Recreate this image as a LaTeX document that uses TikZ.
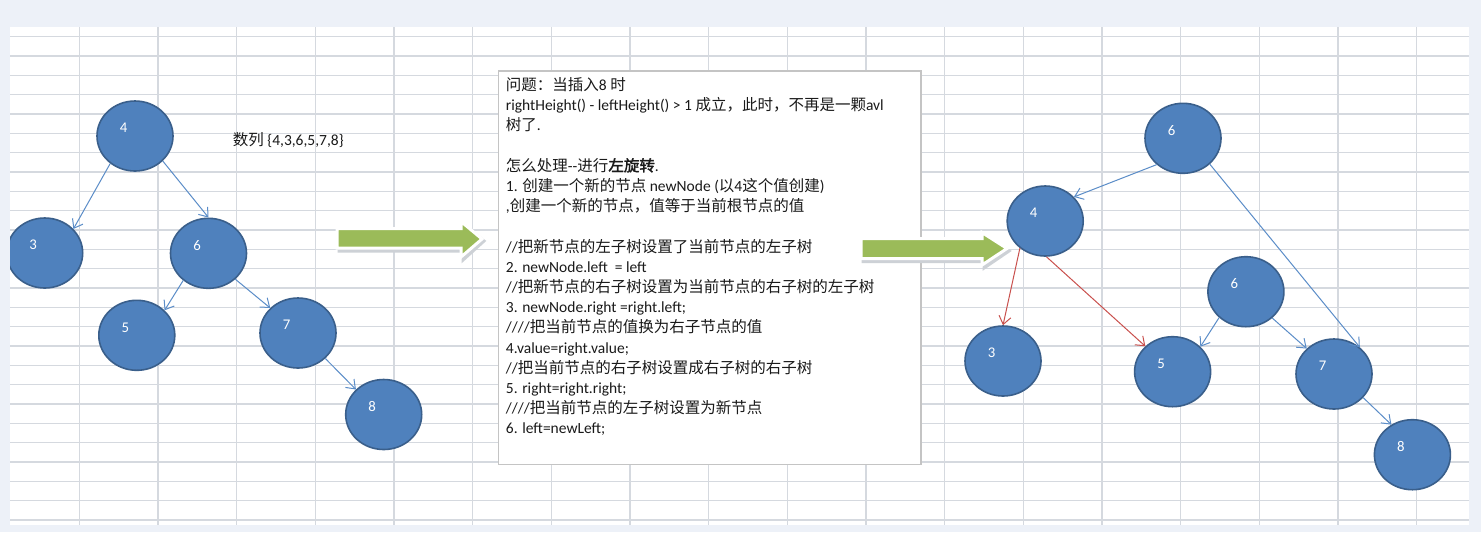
\documentclass[tikz,border=0pt]{standalone}
\usepackage{fontspec}
\setmainfont{Carlito}
\newfontfamily\cjk{Noto Sans CJK SC}
\newfontfamily\cjkb{Noto Sans CJK SC}[FakeBold=2]
\usepackage{tikz}
\usetikzlibrary{arrows.meta, shapes.geometric}
\definecolor{screen}{HTML}{EDF1F8}
\definecolor{gridline}{HTML}{D5D9DF}
\definecolor{nodeblue}{HTML}{4F81BD}
\definecolor{nodeline}{HTML}{3A5F8B}
\definecolor{edgeblue}{HTML}{5B8DC8}
\definecolor{edgered}{HTML}{C9504D}
\definecolor{arrowgreen}{HTML}{9BBB59}
\definecolor{arrowshade}{HTML}{CDD1D6}
\definecolor{boxline}{HTML}{C4C4C4}
\definecolor{textdark}{HTML}{1A1A1A}
\newcommand\zh[1]{{\cjk #1}}
\newcommand\zhb[1]{{\cjkb #1}}
\tikzset{
	tnode/.style={ellipse, draw=nodeline, fill=nodeblue, line width=0.8pt,
		minimum width=38pt, minimum height=35pt, inner sep=0pt,
		label={[text=white, font=\fontsize{7.4}{8}\selectfont, xshift=-5.75pt, yshift=4pt]center:#1}},
	tedge/.style={-{Straight Barb[length=4pt, width=6pt]}, line width=0.5pt, edgeblue},
	redge/.style={tedge, edgered},
	bigarrow/.style={fill=arrowgreen, draw=white, line width=1.5pt, line join=miter},
	arrowshadow/.style={fill=arrowshade, draw=arrowshade, line width=1.5pt, line join=miter},
	note/.style={draw=boxline, fill=white, line width=0.75pt, inner sep=0pt},
}

\begin{document}
\begin{tikzpicture}[x=0.5pt, y=-0.5pt]
	\useasboundingbox (0,0) rectangle (1481,532);
	\fill[screen] (0,0) rectangle (1481,532);

	\begin{scope}
		\clip (10,27) rectangle (1469,525);
		\fill[white] (10,27) rectangle (1469,525);
		\foreach \i in {0,...,25}
			\draw[gridline, line width=0.65pt] (10,{36.7+19.33*\i}) -- (1469,{36.7+19.33*\i});
		\foreach \i in {0,...,17}
			\draw[gridline, line width=0.65pt] ({79.3+78.67*\i},27) -- ({79.3+78.67*\i},525);

		% note with the rotation steps
		\node[note, anchor=north west, minimum width=211.25pt, minimum height=196.75pt] (box) at (497.5,70) {};
		\node[anchor=north west, inner sep=0pt, align=left, text=textdark,
			font=\fontsize{7.75}{10.1}\selectfont] (steps) at ([shift={(4pt,-3.5pt)}]box.north west)
		{\zh{问题：当插入}8 \zh{时}\\
		rightHeight() - leftHeight() > 1 \zh{成立，此时，不再是一颗}avl\\
		\zh{树了}.\\
		\mbox{}\\
		\zh{怎么处理}-{}-\zh{进行}\zhb{左旋转}.\\
		1. \zh{创建一个新的节点} newNode (\zh{以}4\zh{这个值创建})\\
		,\zh{创建一个新的节点，值等于当前根节点的值}\\
		\mbox{}\\
		//\zh{把新节点的左子树设置了当前节点的左子树}\\
		2. newNode.left \ = left\\
		//\zh{把新节点的右子树设置为当前节点的右子树的左子树}\\
		3. newNode.right =right.left;\\
		////\zh{把当前节点的值换为右子节点的值}\\
		4.value=right.value;\\
		//\zh{把当前节点的右子树设置成右子树的右子树}\\
		5. right=right.right;\\
		////\zh{把当前节点的左子树设置为新节点}\\
		6. left=newLeft;};

		\node[anchor=west, inner sep=0pt, text=textdark, font=\fontsize{7.75}{10}\selectfont]
			(seq) at (232.5,140) {\zh{数列} \{4,3,6,5,7,8\}};

		\draw[arrowshadow] (339,231.5) -- (463,231.5) -- (463,224.5) -- (484,241) -- (463,260) -- (463,251) -- (339,251) -- cycle;
		\draw[bigarrow] (337,228.5) -- (461,228.5) -- (461,221.5) -- (482,239) -- (461,257) -- (461,248) -- (337,248) -- cycle;
		\draw[arrowshadow] (863,241.5) -- (984,241.5) -- (984,235.5) -- (1009,251) -- (984,268) -- (984,261.5) -- (863,261.5) -- cycle;
		\draw[bigarrow] (861,238.5) -- (982,238.5) -- (982,232.5) -- (1007,248.5) -- (982,265) -- (982,258.5) -- (861,258.5) -- cycle;

		% before
		\node[tnode=4] (a4) at (135,136) {};
		\node[tnode=3] (a3) at (44.7,253) {};
		\node[tnode=6] (a6) at (208.5,253.3) {};
		\node[tnode=5] (a5) at (136.8,335.3) {};
		\node[tnode=7] (a7) at (298,333) {};
		\node[tnode=8] (a8) at (383.7,414.5) {};
		\draw[tedge] (a4.228) -- (a3.40);
		\draw[tedge] (a4.318) -- (a6.90);
		\draw[tedge] (a6.227) -- (a5.42);
		\draw[tedge] (a6.316) -- (a7.138);
		\draw[tedge] (a7.317) -- (a8.138);

		% after the left rotation
		\node[tnode=6] (b6) at (1183,138.3) {};
		\node[tnode=4] (b4) at (1045.2,221) {};
		\node[tnode=6] (b6x) at (1245.9,291.7) {};
		\node[tnode=3] (b3) at (1003,361) {};
		\node[tnode=5] (b5) at (1172.6,371.7) {};
		\node[tnode=7] (b7) at (1334,374) {};
		\node[tnode=8] (b8) at (1412.4,454.7) {};
		\draw[tedge] (b6.225) -- (b4.40);
		\draw[tedge] (b6.316) -- (b7.46);
		\draw[redge] (b4.227) -- (b3.90);
		\draw[redge] (b4.272) -- (b5.137);
		\draw[tedge] (b6x.224) -- (b5.42);
		\draw[tedge] (b6x.315) -- (b7.137);
		\draw[tedge] (b7.321) -- (b8.125);
	\end{scope}
\end{tikzpicture}
\end{document}
